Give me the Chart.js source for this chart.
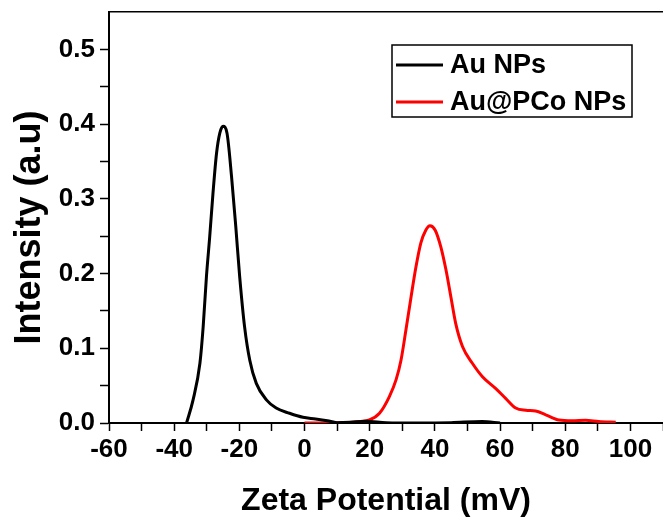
<!DOCTYPE html>
<html>
<head>
<meta charset="utf-8">
<script src="https://cdn.jsdelivr.net/npm/chart.js@4.4.1/dist/chart.umd.min.js"></script>
<style>
  html, body { margin: 0; padding: 0; background: #fff; }
  #wrap { width: 663px; height: 519px; }
</style>
</head>
<body>
<div id="wrap"><canvas id="zetaChart" width="663" height="519"></canvas></div>
<script>
// Zeta potential distributions
const auLabel = 'Au NPs';
const auX = [-36.2, -34.2, -32.1, -31.1, -30.1, -29.1, -28.1, -27.0, -26.0, -25.0, -23.8, -22.4, -21.1, -19.9, -18.4, -16.8, -14.8, -11.7, -8.7, -4.6, -0.5, 3.4, 7, 10, 14, 19, 25, 35, 45, 54.5, 60];
const auY = [0, 0.031, 0.080, 0.129, 0.196, 0.249, 0.307, 0.361, 0.388, 0.397, 0.388, 0.330, 0.263, 0.196, 0.129, 0.084, 0.053, 0.031, 0.020, 0.013, 0.0076, 0.0054, 0.003, 0.0005, 0.001, 0.0025, 0.0005, 0, 0.0005, 0.002, 0];

const pcoLabel = 'Au@PCo NPs';
const pcoX = [0, 5, 10, 15, 16.8, 19.9, 23.0, 26.0, 28.1, 29.6, 31.1, 32.7, 34.2, 35.7, 37.2, 38.5, 40.1, 41.8, 43.4, 44.9, 46.4, 48.5, 51.5, 54.6, 58.7, 61.7, 64.8, 67.9, 70.9, 74.0, 78.1, 82.1, 86.2, 90.3, 95.5];
const pcoY = [0, 0, 0.0005, 0.001, 0.002, 0.004, 0.013, 0.035, 0.058, 0.084, 0.124, 0.169, 0.209, 0.241, 0.258, 0.264, 0.258, 0.236, 0.205, 0.169, 0.133, 0.102, 0.080, 0.062, 0.046, 0.033, 0.020, 0.017, 0.016, 0.011, 0.004, 0.003, 0.0036, 0.002, 0.001];

const xTicksShown = [-60, -40, -20, 0, 20, 40, 60, 80, 100];
const yTicksShown = [0.0, 0.1, 0.2, 0.3, 0.4, 0.5];

const toPoints = (xs, ys) => xs.map((x, i) => ({ x: x, y: ys[i] }));

const FONT = "'Liberation Sans', Arial, sans-serif";

// boxed legend inside the plot, like the original
const boxLegend = {
    id: 'boxLegend',
    afterDatasetsDraw(chart) {
        const ctx = chart.ctx;
        const area = chart.chartArea;
        const left = area.right - 271, top = area.top + 33;
        const w = 240, h = 72;
        ctx.save();
        ctx.fillStyle = '#fff';
        ctx.fillRect(left, top, w, h);
        ctx.strokeStyle = '#000';
        ctx.lineWidth = 1.5;
        ctx.strokeRect(left, top, w, h);
        ctx.font = 'bold 27px ' + FONT;
        ctx.textBaseline = 'middle';
        chart.data.datasets.forEach((ds, i) => {
            const y = top + 20 + i * 37;
            ctx.strokeStyle = ds.borderColor;
            ctx.lineWidth = 3;
            ctx.beginPath();
            ctx.moveTo(left + 4, y);
            ctx.lineTo(left + 51, y);
            ctx.stroke();
            ctx.fillStyle = '#000';
            ctx.fillText(ds.label, left + 58, y + 1);
        });
        ctx.restore();
    }
};

const ctx = document.getElementById('zetaChart').getContext('2d');
const zetaChart = new Chart(ctx, {
    type: 'line',
    data: {
        datasets: [{
            label: auLabel,
            data: toPoints(auX, auY),
            borderColor: '#000000',
            borderWidth: 3,
            pointRadius: 0,
            cubicInterpolationMode: 'monotone',
            fill: false
        }, {
            label: pcoLabel,
            data: toPoints(pcoX, pcoY),
            borderColor: '#ff0000',
            borderWidth: 3,
            pointRadius: 0,
            cubicInterpolationMode: 'monotone',
            fill: false
        }]
    },
    options: {
        responsive: false,
        animation: false,
        layout: { padding: { top: 12, right: 0, bottom: 0, left: 0 } },
        plugins: {
            legend: { display: false },
            tooltip: { enabled: false }
        },
        scales: {
            x: {
                type: 'linear',
                min: -60,
                max: 110,
                afterFit: scale => {
                    scale.height = 96;
                    scale.paddingLeft = 0;
                    scale.paddingRight = 0;
                },
                ticks: {
                    stepSize: 10,
                    padding: 3,
                    color: '#000',
                    font: { family: FONT, size: 26, weight: 'bold' },
                    maxRotation: 0,
                    autoSkip: false,
                    callback: v => xTicksShown.includes(v) ? String(v) : ''
                },
                grid: { drawOnChartArea: false, tickLength: 8, tickColor: '#000', tickWidth: 1.5 },
                border: { color: '#000', width: 2 },
                title: {
                    display: true,
                    text: 'Zeta Potential (mV)',
                    color: '#000',
                    font: { family: FONT, size: 32, weight: 'bold', lineHeight: 1 },
                    padding: { top: 0, bottom: 2 }
                }
            },
            xTop: {
                type: 'linear',
                position: 'top',
                min: -60,
                max: 110,
                afterFit: scale => {
                    scale.height = 0;
                    scale.paddingLeft = 0;
                    scale.paddingRight = 0;
                },
                ticks: { display: false },
                grid: { display: false, drawTicks: false },
                border: { color: '#000', width: 1.5 }
            },
            y: {
                min: 0,
                max: 0.55,
                afterFit: scale => {
                    scale.width = 109;
                    scale.paddingTop = 0;
                    scale.paddingBottom = 0;
                },
                ticks: {
                    stepSize: 0.05,
                    padding: 5,
                    color: '#000',
                    font: { family: FONT, size: 26, weight: 'bold' },
                    autoSkip: false,
                    callback: v => {
                        const r = Math.round(v * 100) / 100;
                        return yTicksShown.some(t => Math.abs(t - r) < 1e-9) ? r.toFixed(1) : '';
                    }
                },
                grid: {
                    drawOnChartArea: false,
                    tickLength: 9,
                    tickWidth: 1.5,
                    // no tick at the very top of the frame
                    tickColor: c => (c.tick && c.tick.value > 0.52) ? 'rgba(0,0,0,0)' : '#000'
                },
                border: { color: '#000', width: 2 },
                title: {
                    display: true,
                    text: 'Intensity (a.u)  ',
                    color: '#000',
                    font: { family: FONT, size: 36, weight: 'bold', lineHeight: 1 },
                    padding: { top: 12, bottom: 0 }
                }
            }
        }
    },
    plugins: [boxLegend]
});
</script>
</body>
</html>
